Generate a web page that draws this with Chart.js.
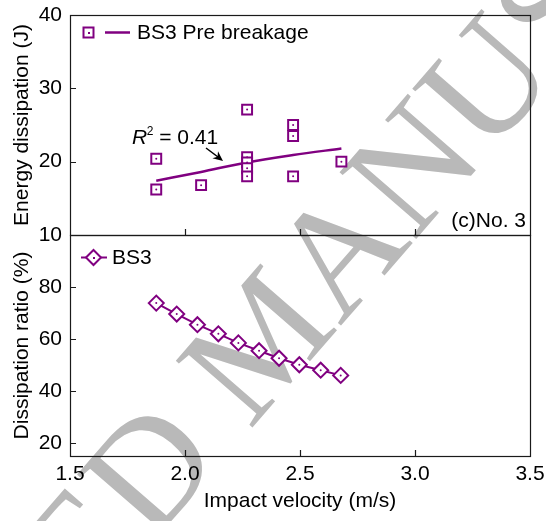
<!DOCTYPE html>
<html>
<head>
<meta charset="utf-8">
<script src="https://cdn.jsdelivr.net/npm/chart.js@4.4.1/dist/chart.umd.min.js"></script>
<style>
  body { margin: 0; background: #fff; }
  #wrap { position: relative; width: 546px; height: 521px; overflow: hidden; }
  canvas { position: absolute; left: 0; }
</style>
</head>
<body>
<div id="wrap">
  <canvas id="mark" width="546" height="521" style="top:0"></canvas>
  <canvas id="topChart" width="546" height="260" style="top:0"></canvas>
  <canvas id="botChart" width="546" height="291" style="top:230px"></canvas>
</div>
<script>
// tick values
const velTicks = [1.5, 2.0, 2.5, 3.0, 3.5];
const energyTicks = [10, 20, 30, 40];
const ratioTicks = [20, 40, 60, 80];

// (c) No. 3, energy dissipation before breakage
const energyVel = [1.875, 1.875, 2.07, 2.27, 2.27, 2.27, 2.27, 2.27, 2.47, 2.47, 2.47, 2.68];
const energyJ   = [20.4, 16.2, 16.8, 27.1, 20.6, 19.9, 19.1, 18.0, 25.0, 23.5, 18.0, 20.0];

// fitted curve (R2 = 0.41)
const fitVel = [1.875, 2.07, 2.27, 2.47, 2.68];
const fitJ   = [17.4, 18.6, 19.9, 20.9, 21.8];

// dissipation ratio
const ratioVel = [1.875, 1.964, 2.054, 2.145, 2.232, 2.322, 2.409, 2.497, 2.59, 2.677];
const ratioPct = [73.8, 69.6, 65.5, 62.0, 58.5, 55.5, 52.6, 50.1, 48.0, 46.0];

const purple = '#800080';
const FONT = '"Liberation Sans", Arial, sans-serif';

Chart.defaults.font.family = FONT;
Chart.defaults.font.size = 21;
Chart.defaults.color = '#000';

const pts = (xs, ys) => xs.map((x, i) => ({ x: x, y: ys[i] }));

// watermark behind the plots
(function () {
  const c = document.getElementById('mark').getContext('2d');
  c.save();
  c.font = '155px "Liberation Serif", "Times New Roman", serif';
  c.fillStyle = '#b9b9b9';
  c.textBaseline = 'middle';
  c.translate(264, 352);
  c.rotate(-49 * Math.PI / 180);
  const pre = c.measureText('ACCEPTED ').width + c.measureText('M').width / 2;
  c.fillText('ACCEPTED MANUSCRIPT', -pre, 0);
  c.restore();
})();

function setTicks(vals) {
  return function (scale) { scale.ticks = vals.map(v => ({ value: v })); };
}

// keep the plot box where the layout padding puts it
function fitY(s) { s.width = 70; s.paddingTop = 0; s.paddingBottom = 0; }

// frame + inward tick marks
function drawFrame(chart) {
  const { ctx, chartArea: a, scales } = chart;
  ctx.save();
  ctx.strokeStyle = '#1a1a1a';
  ctx.lineWidth = 1.2;
  ctx.strokeRect(a.left + 0.5, a.top + 0.5, a.right - a.left, a.bottom - a.top);
  ctx.beginPath();
  scales.x.ticks.forEach(t => {
    const px = Math.round(scales.x.getPixelForValue(t.value)) + 0.5;
    if (px > a.left + 2 && px < a.right - 2) {
      ctx.moveTo(px, a.bottom);
      ctx.lineTo(px, a.bottom - 6);
    }
  });
  scales.y.ticks.forEach(t => {
    const py = Math.round(scales.y.getPixelForValue(t.value)) + 0.5;
    if (py > a.top + 2 && py < a.bottom - 2) {
      ctx.moveTo(a.left, py);
      ctx.lineTo(a.left + 6, py);
    }
  });
  ctx.stroke();
  ctx.restore();
}

const topDecor = {
  id: 'topDecor',
  afterDraw(chart) {
    drawFrame(chart);
    const ctx = chart.ctx;
    ctx.save();
    // legend
    ctx.strokeStyle = purple;
    ctx.fillStyle = purple;
    ctx.lineWidth = 2;
    ctx.strokeRect(83.5, 27.5, 10, 10);
    ctx.fillRect(88, 32, 2, 2);
    ctx.lineWidth = 2.5;
    ctx.beginPath();
    ctx.moveTo(105, 32.5);
    ctx.lineTo(130, 32.5);
    ctx.stroke();
    ctx.fillStyle = '#000';
    ctx.font = '21px ' + FONT;
    ctx.textBaseline = 'middle';
    ctx.fillText('BS3 Pre breakage', 137, 33);
    // R2 note
    ctx.font = 'italic 21px ' + FONT;
    ctx.fillText('R', 132, 138);
    let x = 132 + ctx.measureText('R').width - 0.5;
    ctx.font = '12px ' + FONT;
    ctx.fillText('2', x, 132);
    x += ctx.measureText('2').width;
    ctx.font = '21px ' + FONT;
    ctx.fillText(' = 0.41', x, 138);
    // arrow
    ctx.strokeStyle = '#000';
    ctx.lineWidth = 1.5;
    ctx.beginPath();
    ctx.moveTo(206, 148);
    ctx.lineTo(218, 157);
    ctx.stroke();
    const ang = Math.atan2(12, 15);
    ctx.translate(223, 161);
    ctx.rotate(ang);
    ctx.beginPath();
    ctx.moveTo(0, 0);
    ctx.lineTo(-10, -4.5);
    ctx.lineTo(-7, 0);
    ctx.lineTo(-10, 4.5);
    ctx.closePath();
    ctx.fill();
    ctx.restore();
    // panel tag
    ctx.save();
    ctx.font = '21px ' + FONT;
    ctx.textAlign = 'right';
    ctx.textBaseline = 'middle';
    ctx.fillStyle = '#000';
    ctx.fillText('(c)No. 3', 526, 221);
    ctx.restore();
  }
};

const botDecor = {
  id: 'botDecor',
  afterDraw(chart) {
    drawFrame(chart);
    const ctx = chart.ctx;
    ctx.save();
    ctx.strokeStyle = purple;
    ctx.lineWidth = 2;
    ctx.beginPath();
    ctx.moveTo(81, 27.5);
    ctx.lineTo(107, 27.5);
    ctx.stroke();
    ctx.fillStyle = '#fff';
    ctx.beginPath();
    ctx.moveTo(86, 27.5);
    ctx.lineTo(93.5, 20);
    ctx.lineTo(101, 27.5);
    ctx.lineTo(93.5, 35);
    ctx.closePath();
    ctx.fill();
    ctx.stroke();
    ctx.fillStyle = purple;
    ctx.fillRect(93, 27, 2, 2);
    ctx.fillStyle = '#000';
    ctx.font = '21px ' + FONT;
    ctx.textBaseline = 'middle';
    ctx.fillText('BS3', 112, 28);
    ctx.restore();
  }
};

const common = {
  responsive: false,
  animation: false,
  devicePixelRatio: 1,
  events: [],
  plugins: { legend: { display: false }, tooltip: { enabled: false } }
};

new Chart(document.getElementById('topChart'), {
  type: 'scatter',
  data: {
    datasets: [
      {
        data: pts(fitVel, fitJ),
        showLine: true,
        cubicInterpolationMode: 'monotone',
        borderColor: purple,
        borderWidth: 2.5,
        pointRadius: 0,
        order: 3
      },
      {
        data: pts(energyVel, energyJ),
        pointStyle: 'rect',
        pointRadius: 7,
        borderColor: purple,
        backgroundColor: '#fff',
        borderWidth: 2,
        order: 2
      },
      {
        data: pts(energyVel, energyJ),
        pointStyle: 'circle',
        pointRadius: 1,
        borderWidth: 0,
        backgroundColor: purple,
        order: 1
      }
    ]
  },
  options: Object.assign({}, common, {
    layout: { autoPadding: false, padding: { top: 15, right: 16, left: 0, bottom: 0 } },
    scales: {
      x: {
        type: 'linear', min: 1.5, max: 3.5,
        afterBuildTicks: setTicks(velTicks),
        ticks: { display: false },
        grid: { display: false, drawTicks: false },
        border: { display: false },
        afterFit(s) { s.height = 25; s.paddingLeft = 0; s.paddingRight = 0; }
      },
      y: {
        min: 10, max: 40,
        afterBuildTicks: setTicks(energyTicks),
        ticks: { padding: 8 },
        grid: { display: false, drawTicks: false },
        border: { display: false },
        title: { display: true, text: 'Energy dissipation (J)', padding: { top: 10, bottom: 0 } },
        afterFit: fitY
      }
    }
  }),
  plugins: [topDecor]
});

new Chart(document.getElementById('botChart'), {
  type: 'scatter',
  data: {
    datasets: [
      {
        data: pts(ratioVel, ratioPct),
        showLine: true,
        borderColor: purple,
        borderWidth: 2,
        pointStyle: 'rectRot',
        pointRadius: 7.5,
        pointBorderWidth: 2,
        pointBackgroundColor: '#fff',
        pointBorderColor: purple,
        order: 2
      },
      {
        data: pts(ratioVel, ratioPct),
        pointStyle: 'circle',
        pointRadius: 1,
        borderWidth: 0,
        backgroundColor: purple,
        order: 1
      }
    ]
  },
  options: Object.assign({}, common, {
    layout: { autoPadding: false, padding: { top: 5, right: 16, left: 0, bottom: 0 } },
    scales: {
      x: {
        type: 'linear', min: 1.5, max: 3.5,
        afterBuildTicks: setTicks(velTicks),
        ticks: { padding: 6, callback: v => v.toFixed(1) },
        grid: { display: false, drawTicks: false },
        border: { display: false },
        title: { display: true, text: 'Impact velocity (m/s)', padding: { top: 0, bottom: 7 } },
        afterFit(s) { s.height = 65; s.paddingLeft = 0; s.paddingRight = 0; }
      },
      y: {
        min: 15, max: 100,
        afterBuildTicks: setTicks(ratioTicks),
        ticks: { padding: 8 },
        grid: { display: false, drawTicks: false },
        border: { display: false },
        title: { display: true, text: 'Dissipation ratio (%)', padding: { top: 10, bottom: 0 } },
        afterFit: fitY
      }
    }
  }),
  plugins: [botDecor]
});
</script>
</body>
</html>
